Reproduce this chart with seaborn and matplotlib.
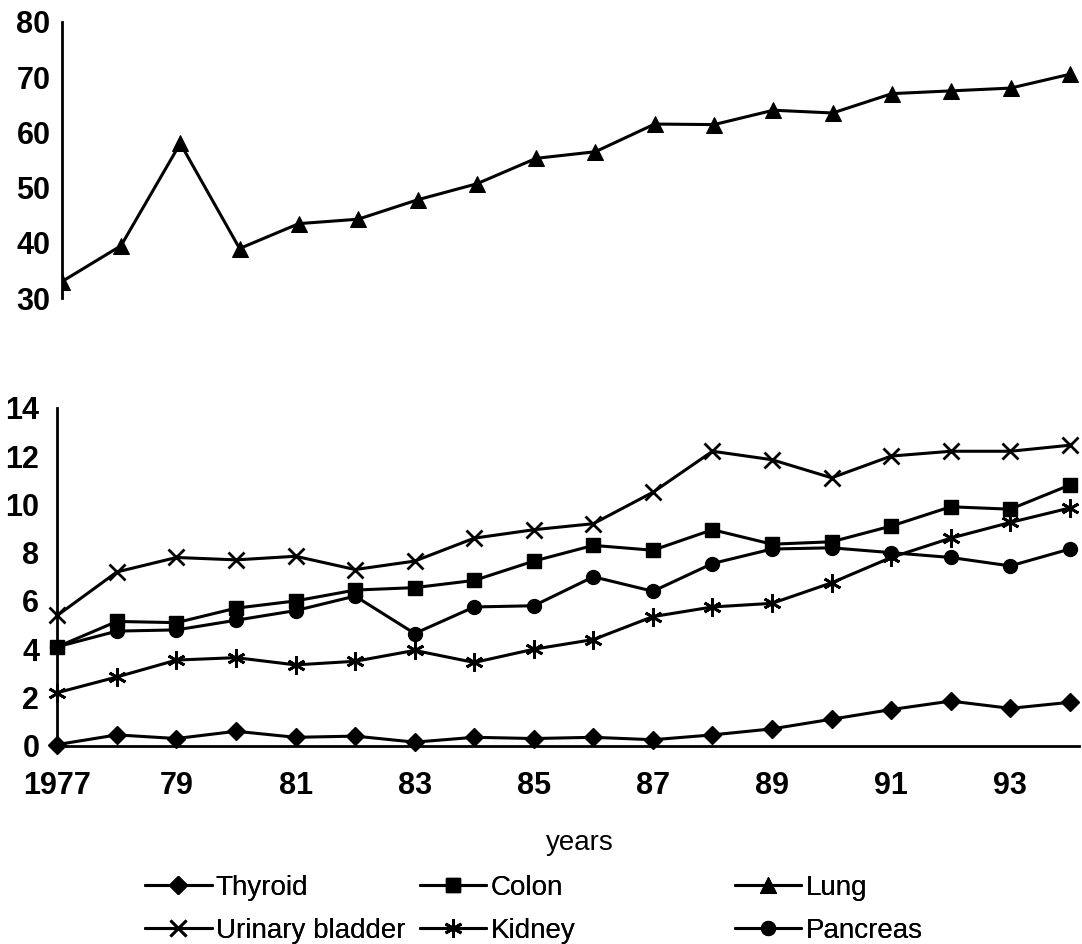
import matplotlib
matplotlib.use("Agg")
import matplotlib.pyplot as plt
import seaborn as sns

sns.set_style("white")
plt.rcParams["font.family"] = ["Liberation Sans", "DejaVu Sans"]
plt.rcParams["text.color"] = "black"
plt.rcParams["xtick.color"] = "black"
plt.rcParams["ytick.color"] = "black"

# ------------------ Dados ------------------ #
anos = list(range(1977, 1995))

lung = [33.0, 39.5, 58.0, 39.0, 43.5, 44.3, 47.8, 50.7, 55.3, 56.5,
        61.5, 61.4, 64.0, 63.5, 67.0, 67.5, 68.0, 70.5]
thyroid = [0.05, 0.45, 0.3, 0.6, 0.35, 0.4, 0.15, 0.35, 0.3, 0.35,
           0.25, 0.45, 0.7, 1.1, 1.5, 1.85, 1.55, 1.8]
urinary_bladder = [5.4, 7.2, 7.8, 7.7, 7.85, 7.3, 7.65, 8.6, 8.95, 9.2,
                   10.5, 12.2, 11.85, 11.1, 12.0, 12.2, 12.2, 12.45]
colon = [4.1, 5.15, 5.1, 5.7, 6.0, 6.45, 6.55, 6.85, 7.65, 8.3,
         8.1, 8.95, 8.35, 8.45, 9.1, 9.9, 9.8, 10.8]
kidney = [2.2, 2.85, 3.55, 3.65, 3.35, 3.5, 3.95, 3.45, 4.0, 4.4,
          5.35, 5.75, 5.9, 6.75, 7.8, 8.6, 9.25, 9.85]
pancreas = [4.1, 4.75, 4.8, 5.2, 5.6, 6.2, 4.65, 5.75, 5.8, 7.0,
            6.4, 7.55, 8.15, 8.2, 8.0, 7.8, 7.45, 8.15]

rotulos_x = ["1977" if a == 1977 else (str(a)[2:] if a % 2 == 1 else "") for a in anos]

series_baixo = [
    ("Thyroid", thyroid, "D", 9),
    ("Urinary bladder", urinary_bladder, "x", 11),
    ("Colon", colon, "s", 10),
    ("Kidney", kidney, (6, 2, 0), 13),
    ("Pancreas", pancreas, "o", 10),
]

# ------------------ Figura ------------------ #
fig = plt.figure(figsize=(10.82, 9.44), dpi=100)
ax_top = fig.add_axes([0.057, 0.684, 0.940, 0.293])
ax_bot = fig.add_axes([0.053, 0.210, 0.944, 0.358])

tick_font = dict(fontsize=22, fontweight="bold", color="black")
handles = {}

# Painel superior: Lung
sns.lineplot(x=anos, y=lung, ax=ax_top, color="black", linewidth=2.2,
             marker="^", markersize=11, markeredgecolor="black", label="Lung")
ax_top.set_xlim(1977, 1994.15)
ax_top.set_ylim(30, 80)
ax_top.set_yticks(range(30, 81, 10))
ax_top.set_yticklabels([str(v) for v in range(30, 81, 10)], **tick_font)
ax_top.set_xticks([])
for lado in ["top", "right", "bottom"]:
    ax_top.spines[lado].set_visible(False)
ax_top.spines["left"].set_linewidth(2)
ax_top.spines["left"].set_color("black")
ax_top.tick_params(axis="y", direction="in", length=7, width=2, pad=8)

# Painel inferior: demais tipos
for nome, valores, marcador, tam in series_baixo:
    mew = 2 if marcador in ("x", (6, 2, 0)) else 1
    sns.lineplot(x=anos, y=valores, ax=ax_bot, color="black", linewidth=2.2,
                 marker=marcador, markersize=tam, markeredgecolor="black",
                 markeredgewidth=mew, label=nome, clip_on=False)

ax_bot.set_xlim(1977, 1994.15)
ax_bot.set_ylim(0, 14)
ax_bot.set_yticks(range(0, 15, 2))
ax_bot.set_yticklabels([str(v) for v in range(0, 15, 2)], **tick_font)
ax_bot.set_xticks(anos)
ax_bot.set_xticklabels(rotulos_x, **tick_font)
for lado in ["top", "right"]:
    ax_bot.spines[lado].set_visible(False)
for lado in ["left", "bottom"]:
    ax_bot.spines[lado].set_linewidth(2)
    ax_bot.spines[lado].set_color("black")
ax_bot.tick_params(axis="y", direction="in", length=7, width=2, pad=13)
ax_bot.tick_params(axis="x", direction="in", length=9, width=2, pad=18)

for ax in (ax_top, ax_bot):
    h, l = ax.get_legend_handles_labels()
    handles.update(dict(zip(l, h)))
    ax.get_legend().remove()

fig.text(0.536, 1 - 843 / 944, "years", ha="center", va="center", fontsize=20)

# Legenda em tres colunas independentes
colunas = [
    (["Thyroid", "Urinary bladder"], 0.134),
    (["Colon", "Kidney"], 0.388),
    (["Lung", "Pancreas"], 0.679),
]
for nomes, x0 in colunas:
    leg = fig.legend([handles[n] for n in nomes], nomes, loc="upper left",
                     bbox_to_anchor=(x0, 1 - 875 / 944), frameon=False,
                     fontsize=20, handlelength=2.4, handletextpad=0.15,
                     labelspacing=0.6, borderaxespad=0, borderpad=0)
    fig.add_artist(leg)

fig.savefig("out.png", dpi=100, facecolor="white")
